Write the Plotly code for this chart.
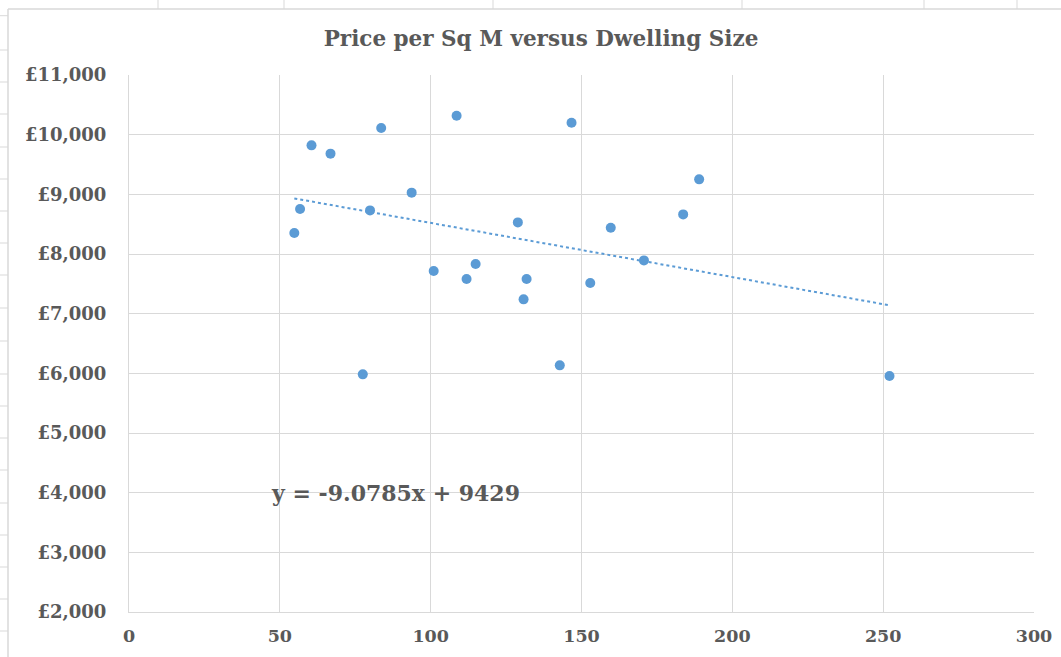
import plotly.graph_objects as go

# ---- data ----
dwelling_size = [54.8, 56.7, 60.5, 66.8, 77.5, 79.9, 83.6, 93.7, 101.0, 108.6, 111.9, 114.9,
                 128.9, 130.8, 131.8, 142.8, 146.7, 152.9, 159.7, 170.7, 183.7, 189.0, 252.1]
price_per_sqm = [8351, 8753, 9821, 9682, 5983, 8731, 10111, 9028, 7714, 10318, 7580, 7831,
                 8530, 7240, 7580, 6134, 10201, 7513, 8441, 7893, 8664, 9251, 5954]
trend_slope = -9.0785
trend_intercept = 9429
x_ticks = [0, 50, 100, 150, 200, 250, 300]
y_ticks = [2000, 3000, 4000, 5000, 6000, 7000, 8000, 9000, 10000, 11000]
y_tick_labels = ["£" + f"{v:,}" for v in y_ticks]
title_text = "Price per Sq M versus Dwelling Size"
equation_text = "y = -9.0785x + 9429"

W, H = 1061, 657
ML, MR, MT, MB = 129, 27, 75, 45
PW, PH = W - ML - MR, H - MT - MB

def px(x):
    return (x - ML) / PW

def py(y):
    return (H - MB - y) / PH

BLUE = "#5B9BD5"
GRID = "#d9d9d9"
TXT = "#595959"
FONT = "DejaVu Serif"

trend_x = [min(dwelling_size), max(dwelling_size)]
trend_y = [trend_slope * v + trend_intercept for v in trend_x]

fig = go.Figure()
fig.add_trace(go.Scatter(x=trend_x, y=trend_y, mode="lines",
                         line=dict(color=BLUE, width=2, dash="dot"),
                         hoverinfo="skip", showlegend=False))
fig.add_trace(go.Scatter(x=dwelling_size, y=price_per_sqm, mode="markers",
                         marker=dict(color=BLUE, size=10), showlegend=False))

shapes = []
# spreadsheet background lines (outside chart)
for yy in [15.7, 50, 82, 114, 147, 179, 211, 243, 275, 308, 341, 374, 406, 438, 470,
           503, 535, 567, 599, 631]:
    shapes.append(dict(type="line", xref="paper", yref="paper", x0=px(0), x1=px(8),
                       y0=py(yy), y1=py(yy), line=dict(color=GRID, width=1), layer="below"))
for xx in [158, 284, 493, 742, 924, 1017]:
    shapes.append(dict(type="line", xref="paper", yref="paper", x0=px(xx), x1=px(xx),
                       y0=py(0), y1=py(9), line=dict(color=GRID, width=1), layer="below"))
# chart area border
shapes.append(dict(type="line", xref="paper", yref="paper", x0=px(8), x1=px(W + 5),
                   y0=py(9), y1=py(9), line=dict(color=GRID, width=1.5), layer="below"))
shapes.append(dict(type="line", xref="paper", yref="paper", x0=px(8), x1=px(8),
                   y0=py(9), y1=py(H + 5), line=dict(color=GRID, width=1.5), layer="below"))

fig.update_layout(
    width=W, height=H,
    margin=dict(l=ML, r=MR, t=MT, b=MB, autoexpand=False),
    paper_bgcolor="white", plot_bgcolor="white",
    title=dict(text=title_text, x=541 / W, xref="container", xanchor="center",
               y=1 - 38 / H, yref="container", yanchor="middle",
               font=dict(family=FONT, size=21.5, color=TXT, weight="bold")),
    xaxis=dict(range=[0, 300], tickvals=x_ticks, showgrid=True, gridcolor=GRID, gridwidth=1,
               showline=True, linecolor=GRID, linewidth=1, zeroline=False,
               ticks="", ticklabelstandoff=8, automargin=False,
               tickfont=dict(family=FONT, size=17.5, color=TXT, weight="bold")),
    yaxis=dict(range=[2000, 11000], tickvals=y_ticks, ticktext=y_tick_labels,
               showgrid=True, gridcolor=GRID, gridwidth=1,
               showline=True, linecolor=GRID, linewidth=1, zeroline=False,
               ticks="", ticklabelstandoff=18, automargin=False,
               tickfont=dict(family=FONT, size=18, color=TXT, weight="bold")),
    shapes=shapes,
    annotations=[dict(text=equation_text, x=88.5, y=3990, xref="x", yref="y",
                      showarrow=False, xanchor="center", yanchor="middle",
                      font=dict(family=FONT, size=22, color=TXT, weight="bold"))],
)

fig.write_html("out.html", config={"displayModeBar": False},
               post_script="document.body.style.margin='0';")
